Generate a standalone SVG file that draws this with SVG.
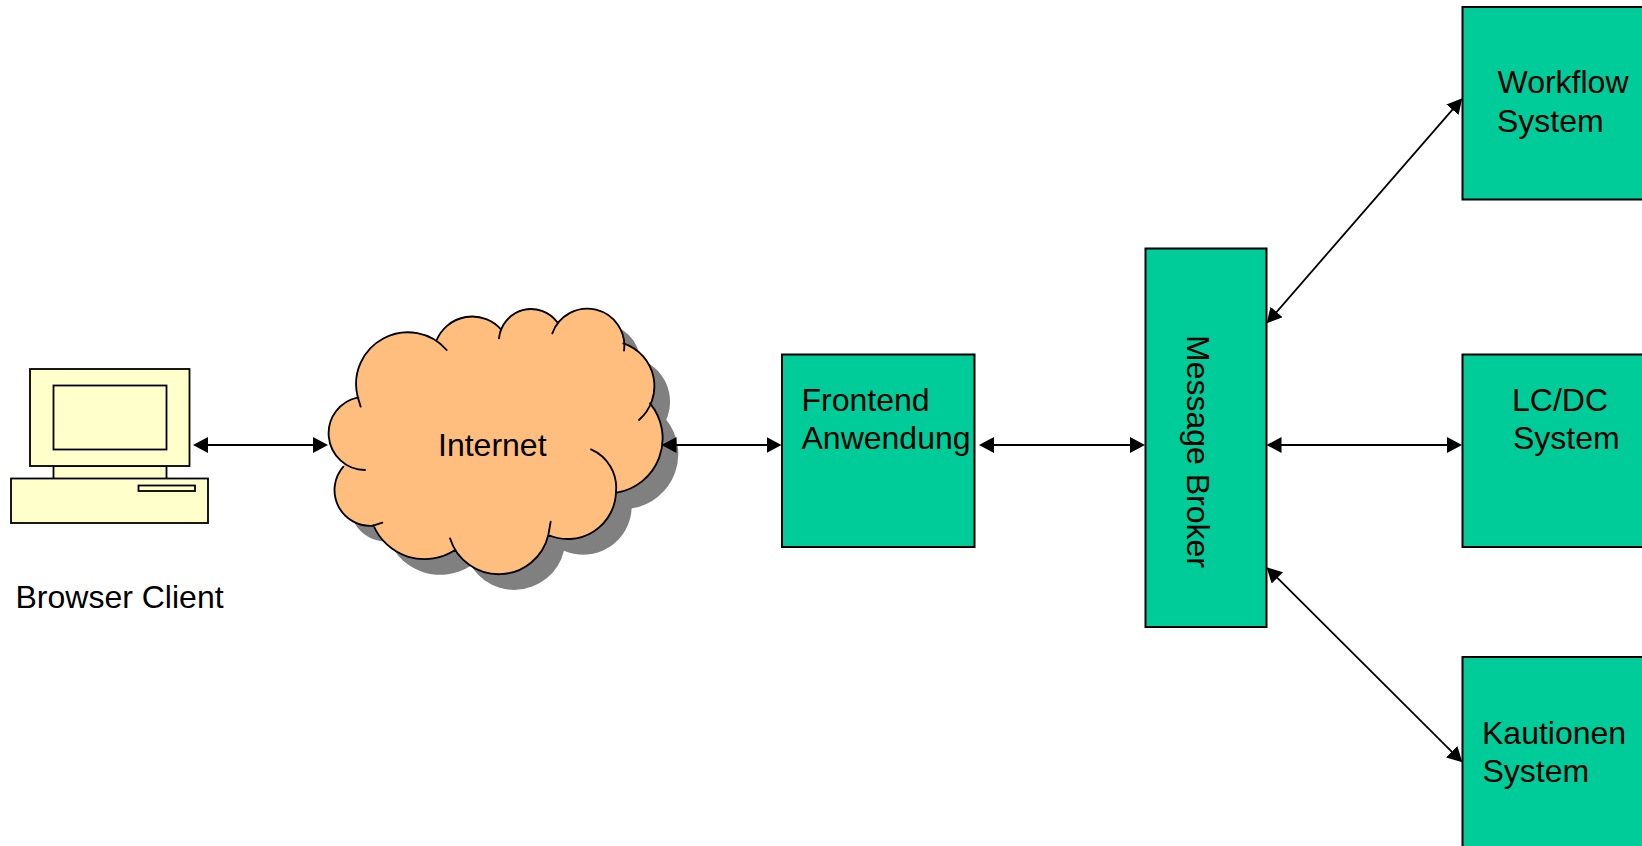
<svg xmlns="http://www.w3.org/2000/svg" xmlns:xlink="http://www.w3.org/1999/xlink" width="1642" height="846" viewBox="0 0 1642 846">
<style>
text{font-family:"Liberation Sans",Arial,sans-serif;font-size:32px;fill:#000}
.box{fill:#00CC99;stroke:#000;stroke-width:2}
.pc{fill:#FFFFCC;stroke:#000;stroke-width:1.8}
.conn{fill:none;stroke:#000;stroke-width:1.8}
.lobe{fill:none;stroke:#000;stroke-width:5.500;stroke-linecap:round}
</style>
<defs>
<marker id="head" markerUnits="userSpaceOnUse" markerWidth="16" markerHeight="18" refX="12" refY="8" orient="auto-start-reverse">
<path d="M0,0L15,8L0,16Z" fill="#000"/>
</marker>
<path id="blob" d="M113,320L350,150L543,118L712,97L910,160L990,340L890,608L685,735L405,780L160,705L70,530Z
M113,320A155,155 0 0 1 380,180Z
M350,150A116,116 0 0 1 543,118Z
M537,145A97,97 0 0 1 712,97Z
M697,130A111.200,111.200 0 0 1 912,182Z
M910,160A135,135 0 0 1 957,390Z
M990,340A165,165 0 0 1 890,608Z
M813,478A125,125 0 0 1 888,605A145,145 0 0 1 685,735Z
M685,735A153,153 0 0 1 390,745Z
M405,780A166,166 0 0 1 160,705L300,500Z
M160,707A107,107 0 0 1 70,530L300,500Z
M135,540A110,110 0 0 1 115,322Z"/>
</defs>
<g id="browser-client">
<rect class="pc" x="53.5" y="466" width="113" height="13"/>
<rect class="pc" x="30" y="369" width="159.500" height="97"/>
<rect class="pc" x="53.500" y="385.500" width="113" height="64"/>
<rect class="pc" x="11" y="478.500" width="197" height="44.500"/>
<rect class="pc" x="138.500" y="485.500" width="56.500" height="5.500"/>
<text x="15.500" y="607.500">Browser Client</text>
</g>
<g id="internet">
<g transform="translate(320 290) scale(0.33333)">
<use xlink:href="#blob" href="#blob" x="47" y="47" fill="#808080"/>
<use xlink:href="#blob" href="#blob" fill="#FFBE7D"/>
<path class="lobe" d="M122,350L113,320A155,155 0 0 1 380,180M350,150A116,116 0 0 1 543,118M537,145A97,97 0 0 1 712,97M697,130A111.200,111.200 0 0 1 912,182M910,160A135,135 0 0 1 957,390M990,340A165,165 0 0 1 890,608M813,478A125,125 0 0 1 888,605A145,145 0 0 1 685,735M692,695L685,735A153,153 0 0 1 390,745M405,780A166,166 0 0 1 160,705M187,698L160,707A107,107 0 0 1 70,530M135,540A110,110 0 0 1 115,322"/>
</g>
<text x="438" y="456">Internet</text>
</g>
<g id="frontend">
<rect class="box" x="782" y="354.500" width="192.500" height="192.500"/>
<text x="801.500" y="411">Frontend</text>
<text x="801.500" y="449">Anwendung</text>
</g>
<g id="message-broker">
<rect class="box" x="1145.500" y="248.500" width="121" height="378.500"/>
<text transform="translate(1187 335) rotate(90)">Message Broker</text>
</g>
<g id="workflow">
<rect class="box" x="1462.500" y="7" width="193" height="192.500"/>
<text x="1497.500" y="93">Workflow</text>
<text x="1497" y="132">System</text>
</g>
<g id="lcdc">
<rect class="box" x="1462.500" y="354.500" width="193" height="192.500"/>
<text x="1512" y="411">LC/DC</text>
<text x="1513" y="449">System</text>
</g>
<g id="kautionen">
<rect class="box" x="1462.500" y="657" width="193" height="193"/>
<text x="1482" y="743.500">Kautionen</text>
<text x="1482.500" y="782">System</text>
</g>
<g id="connectors">
<path class="conn" marker-start="url(#head)" marker-end="url(#head)" d="M196,445H325"/>
<path class="conn" marker-start="url(#head)" marker-end="url(#head)" d="M664.500,445H778.500"/>
<path class="conn" marker-start="url(#head)" marker-end="url(#head)" d="M982,445H1142"/>
<path class="conn" marker-start="url(#head)" marker-end="url(#head)" d="M1269.500,445H1459"/>
<path class="conn" marker-start="url(#head)" marker-end="url(#head)" d="M1268.700,321L1460.300,100.600"/>
<path class="conn" marker-start="url(#head)" marker-end="url(#head)" d="M1268.800,569.400L1460.200,760.200"/>
</g>
</svg>
